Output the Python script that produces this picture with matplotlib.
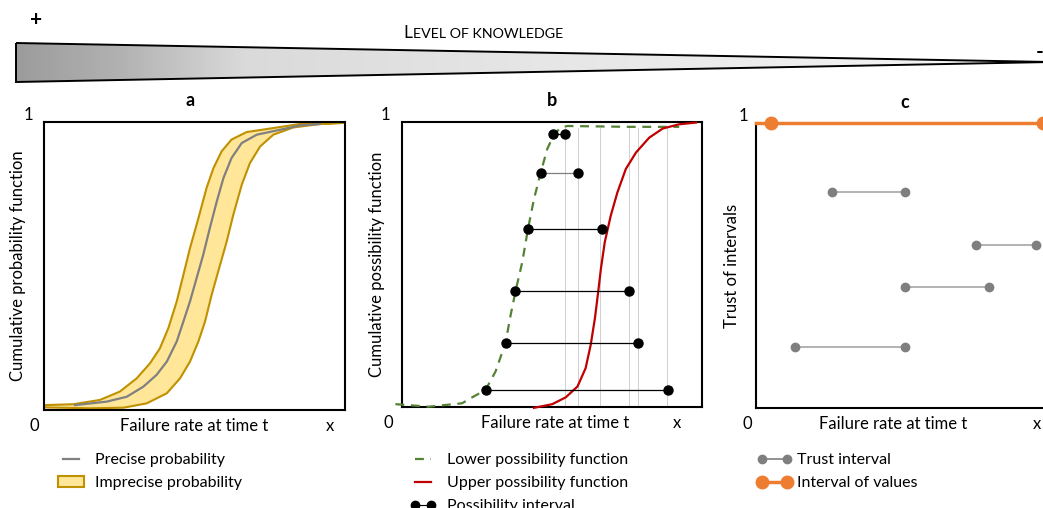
import matplotlib
matplotlib.use("Agg")
import matplotlib.pyplot as plt
import numpy as np
from matplotlib.lines import Line2D
from matplotlib.patches import Patch, Polygon
from matplotlib.colors import LinearSegmentedColormap

plt.rcParams['font.family'] = ['Lato', 'DejaVu Sans']

# panel a: precise cdf and imprecise band
precise_x = [0.103, 0.208, 0.275, 0.33, 0.374, 0.408, 0.441, 0.463, 0.485, 0.507, 0.529, 0.551, 0.574,
             0.596, 0.623, 0.657, 0.707, 0.784, 0.85, 0.917]
precise_y = [0.017, 0.029, 0.046, 0.081, 0.122, 0.168, 0.238, 0.307, 0.377, 0.458, 0.539, 0.632, 0.724,
             0.805, 0.875, 0.927, 0.956, 0.973, 0.988, 0.993]
upper_x = [0.0, 0.097, 0.186, 0.252, 0.308, 0.352, 0.385, 0.413, 0.441, 0.463, 0.485, 0.513, 0.54,
           0.563, 0.59, 0.623, 0.673, 0.762, 0.85, 1.0]
upper_y = [0.017, 0.02, 0.035, 0.064, 0.11, 0.162, 0.214, 0.284, 0.377, 0.469, 0.562, 0.666, 0.771,
           0.84, 0.898, 0.939, 0.965, 0.979, 0.993, 0.997]
lower_x = [0.0, 0.153, 0.264, 0.341, 0.408, 0.452, 0.485, 0.513, 0.535, 0.557, 0.585, 0.607, 0.629,
           0.657, 0.684, 0.718, 0.762, 0.828, 0.917, 1.0]
lower_y = [0.009, 0.006, 0.008, 0.023, 0.058, 0.11, 0.168, 0.238, 0.307, 0.4, 0.504, 0.585, 0.678,
           0.782, 0.857, 0.915, 0.956, 0.981, 0.993, 0.997]

# panel b: lower / upper possibility functions and intervals
low_pos_x = [-0.022, 0.089, 0.2, 0.239, 0.278, 0.312, 0.345, 0.362, 0.379, 0.401, 0.42, 0.44, 0.462,
             0.484, 0.507, 0.529, 0.551, 0.757, 0.924]
low_pos_y = [0.01, 0.001, 0.013, 0.037, 0.059, 0.125, 0.225, 0.322, 0.409, 0.509, 0.625, 0.73, 0.821,
             0.905, 0.957, 0.98, 0.986, 0.983, 0.983]
up_pos_x = [0.44, 0.501, 0.546, 0.585, 0.612, 0.629, 0.643, 0.654, 0.663, 0.676, 0.696, 0.718, 0.746,
            0.78, 0.824, 0.869, 0.924, 0.98]
up_pos_y = [-0.003, 0.01, 0.034, 0.072, 0.136, 0.218, 0.311, 0.404, 0.485, 0.579, 0.672, 0.753, 0.835,
            0.893, 0.945, 0.977, 0.992, 0.998]
pint_left = [0.504, 0.464, 0.42, 0.376, 0.345, 0.281]
pint_right = [0.543, 0.585, 0.665, 0.757, 0.785, 0.885]
pint_level = [0.957, 0.821, 0.625, 0.407, 0.226, 0.059]
pint_color = ["black", "#7f7f7f", "black", "black", "black", "black"]
guide_x = [0.543, 0.587, 0.659, 0.757, 0.787, 0.882]

# panel c: trust intervals and interval of values
trust_left = [0.252, 0.733, 0.497, 0.13]
trust_right = [0.497, 0.932, 0.778, 0.497]
trust_level = [0.757, 0.571, 0.423, 0.213]
values_left, values_right, values_level = 0.05, 0.958, 1.0

W, H = 1043, 508
fig = plt.figure(figsize=(W / 100, H / 100), dpi=100)

# top banner: level of knowledge triangle
top = fig.add_axes([0, 0, 1, 1])
top.set_xlim(0, W)
top.set_ylim(H, 0)
top.axis("off")
tri = Polygon([[16, 43], [16, 82], [1050, 62]], closed=True, facecolor="none",
              edgecolor="black", lw=1.4, zorder=3)
top.add_patch(tri)
cmap = LinearSegmentedColormap.from_list(
    "know", [(0, "#9c9c9c"), (0.1, "#b2b2b2"), (0.22, "#dadada"), (0.5, "#e6e6e6"), (1, "#f6f6f6")])
grad = np.linspace(0, 1, 512).reshape(1, -1)
im = top.imshow(grad, cmap=cmap, aspect="auto", extent=[16, 1050, 82, 43], zorder=2)
im.set_clip_path(tri)
top.text(36, 20, "+", fontsize=15, fontweight="bold", ha="center", va="center")
top.text(1040, 52, "-", fontsize=15, fontweight="bold", ha="center", va="center")
top.text(403, 38, "L", fontsize=12.5, ha="left", va="baseline")
top.text(413, 38, "EVEL OF KNOWLEDGE", fontsize=10.3, ha="left", va="baseline")


def frame(rect, title, title_x, ylabel, ylab_off, one_off, zero_off, x_pos, fail_x):
	ax = fig.add_axes([rect[0] / W, 1 - rect[3] / H, (rect[2] - rect[0]) / W, (rect[3] - rect[1]) / H])
	ax.set_xlim(0, 1)
	ax.set_ylim(0, 1)
	ax.set_xticks([])
	ax.set_yticks([])
	for s in ax.spines.values():
		s.set_linewidth(1.5)
		s.set_color("black")
	w = rect[2] - rect[0]
	h = rect[3] - rect[1]
	ax.text(title_x, 1 + 21 / h, title, fontsize=13, fontweight="bold", ha="center", va="center",
	        transform=ax.transAxes)
	ax.text(one_off / w, 1 + 7 / h, "1", fontsize=12, ha="center", va="center", transform=ax.transAxes)
	ax.text(zero_off / w, -16 / h, "0", fontsize=12, ha="center", va="center", transform=ax.transAxes)
	ax.text(x_pos, -16 / h, "x", fontsize=12, ha="center", va="center", transform=ax.transAxes)
	ax.text(fail_x, -16 / h, "Failure rate at time t", fontsize=12, ha="center", va="center",
	        transform=ax.transAxes)
	ax.text(ylab_off / w, 0.5, ylabel, fontsize=12, rotation=90, ha="center", va="center",
	        transform=ax.transAxes)
	return ax


ax1 = frame((44, 122, 345, 410), "a", 0.485, "Cumulative probability function", -26, -16, -10, 0.95, 0.50)
band_x = upper_x + lower_x[::-1]
band_y = upper_y + lower_y[::-1]
ax1.fill(band_x, band_y, facecolor="#FFE699", edgecolor="#BF9000", lw=1.5)
ax1.plot(precise_x, precise_y, color="#808080", lw=1.6)

ax2 = frame((402, 122, 702, 407), "b", 0.5, "Cumulative possibility function", -25, -17, -14, 0.917, 0.51)
for xg in guide_x:
	ax2.plot([xg, xg], [0, 0.98], color="#cfcfcf", lw=0.7, zorder=1)
ax2.plot(low_pos_x, low_pos_y, color="#548235", lw=1.6, dashes=(4, 3), clip_on=False, zorder=3)
ax2.plot(up_pos_x, up_pos_y, color="#C00000", lw=1.6, clip_on=False, zorder=3)
for xl, xr, lv, c in zip(pint_left, pint_right, pint_level, pint_color):
	ax2.plot([xl, xr], [lv, lv], color=c, lw=0.9, zorder=4)
	ax2.plot([xl, xr], [lv, lv], ls="none", marker="o", ms=6.5, color="black", zorder=5)

ax3 = frame((756, 123, 1056, 408), "c", 0.497, "Trust of intervals", -24, -13, -9, 0.937, 0.457)
ax3.spines["top"].set_visible(False)
for xl, xr, lv in zip(trust_left, trust_right, trust_level):
	ax3.plot([xl, xr], [lv, lv], color="#a6a6a6", lw=1.2, zorder=3)
	ax3.plot([xl, xr], [lv, lv], ls="none", marker="o", ms=6, color="#7f7f7f", zorder=4)
ax3.plot([0, values_right], [values_level, values_level], color="#ED7D31", lw=2.5, clip_on=False, zorder=4)
ax3.plot([values_left, values_right], [values_level, values_level], ls="none", marker="o", ms=9,
         color="#ED7D31", clip_on=False, zorder=5)

# legends
leg_kw = dict(frameon=False, loc="upper left", borderpad=0, borderaxespad=0, fontsize=11.5,
              handlelength=1.6, handletextpad=0.7, labelspacing=0.55, numpoints=2)
top_y = 1 - 453 / H
h_a = [Line2D([], [], color="#808080", lw=1.6),
       Patch(facecolor="#FFE699", edgecolor="#BF9000", lw=1.5)]
fig.legend(h_a, ["Precise probability", "Imprecise probability"], bbox_to_anchor=(58 / W, top_y), **leg_kw)
h_b = [Line2D([], [], color="#548235", lw=1.6, dashes=(4, 3)),
       Line2D([], [], color="#C00000", lw=1.6),
       Line2D([], [], color="black", lw=0.8, marker="o", ms=6)]
fig.legend(h_b, ["Lower possibility function", "Upper possibility function", "Possibility interval"],
           bbox_to_anchor=(410 / W, top_y), **leg_kw)
h_c = [Line2D([], [], color="#7f7f7f", lw=1.2, marker="o", ms=6, mfc="#7f7f7f", mec="#7f7f7f"),
       Line2D([], [], color="#ED7D31", lw=2.5, marker="o", ms=9)]
kw_c = dict(leg_kw)
kw_c["handlelength"] = 2.2
kw_c["handletextpad"] = 0.3
fig.legend(h_c, ["Trust interval", "Interval of values"], bbox_to_anchor=(757 / W, top_y), **kw_c)

fig.savefig("out.png", dpi=100)
